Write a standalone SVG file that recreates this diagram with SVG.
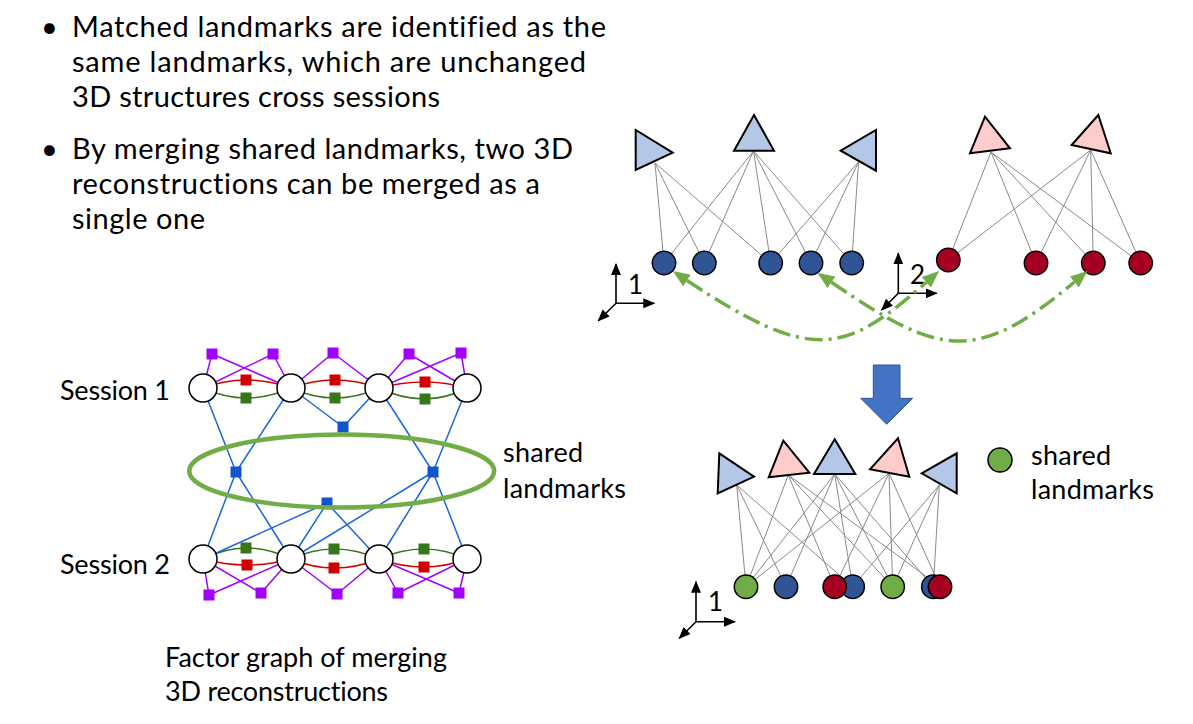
<svg xmlns="http://www.w3.org/2000/svg" width="1193" height="724" viewBox="0 0 1193 724">
<style>
text{font-family:Lato,"Liberation Sans",sans-serif;fill:#000;font-variant-ligatures:none}
.big{font-size:29px}
.mid{font-size:27px}
.ax{font-size:26px}
.g{stroke:#8a8a8a;stroke-width:1;fill:none}
.tb{fill:#B4C7E7;stroke:#000;stroke-width:2}
.tp{fill:#FFCCCC;stroke:#000;stroke-width:2}
.cb{fill:#2F5597;stroke:#000;stroke-width:1.5}
.cr{fill:#A50021;stroke:#000;stroke-width:1.5}
.cg{fill:#70AD47;stroke:#000;stroke-width:1.5}
.axl{stroke:#000;stroke-width:1.6;fill:none}
.mt{stroke:#000;stroke-width:1.5;fill:#fff}
.pl{stroke:#A100FF;stroke-width:1.5;fill:none}
.rl{stroke:#D00000;stroke-width:1.5;fill:none}
.gl{stroke:#38761D;stroke-width:1.5;fill:none}
.bl{stroke:#1a66dd;stroke-width:1.5;fill:none}
.ps{fill:#A100FF}
.rs{fill:#D00000}
.gs{fill:#38761D}
.bs{fill:#1155CC}
.dd{stroke:#70AD47;stroke-width:3.5;fill:none;stroke-dasharray:18 6 3 6}
</style>
<defs>
<marker id="ah" markerUnits="userSpaceOnUse" markerWidth="12" markerHeight="12" viewBox="0 0 12 10" refX="11" refY="5" orient="auto">
<path d="M0,0 L12,5 L0,10 z" fill="#000"/>
</marker>
<marker id="gh" markerUnits="userSpaceOnUse" markerWidth="17" markerHeight="14" viewBox="0 0 17 14" refX="0" refY="7" orient="auto-start-reverse">
<path d="M0,0 L17,7 L0,14 z" fill="#70AD47"/>
</marker>
</defs>
<rect width="1193" height="724" fill="#fff"/>

<g id="bullets">
<text class="big" x="41" y="37">•</text>
<text class="big" x="72" y="37" textLength="534">Matched landmarks are identified as the</text>
<text class="big" x="72" y="72" textLength="514">same landmarks, which are unchanged</text>
<text class="big" x="72" y="107" textLength="368">3D structures cross sessions</text>
<text class="big" x="41" y="159">•</text>
<text class="big" x="72" y="159" textLength="501">By merging shared landmarks, two 3D</text>
<text class="big" x="72" y="194" textLength="468">reconstructions can be merged as a</text>
<text class="big" x="72" y="229" textLength="133">single one</text>
</g>

<!-- Top right graph -->
<g id="top-connectors">
<path class="g" d="M655,163 L664,263 M655,163 L704.3,263 M655,163 L770.7,263"/>
<path class="g" d="M753.5,151 L664,263 M753.5,151 L704.3,263 M753.5,151 L770.7,263 M753.5,151 L811,263 M753.5,151 L851.7,263"/>
<path class="g" d="M858.5,162 L770.7,263 M858.5,162 L811,263 M858.5,162 L851.7,263"/>
<path class="g" d="M991,152 L948.3,260 M991,152 L1036,263 M991,152 L1093.3,263 M991,152 L1140.7,263"/>
<path class="g" d="M1090.7,150 L948.3,260 M1090.7,150 L1036,263 M1090.7,150 L1093.3,263 M1090.7,150 L1140.7,263"/>
</g>
<g id="top-cameras">
<polygon id="t1" class="tb" points="635.7,130 635.7,170 672.7,152.7"/>
<polygon id="t2" class="tb" points="734,150.7 774,150.7 754,115"/>
<polygon id="t3" class="tb" points="840.7,150.7 876,130 876,170.7"/>
<polygon id="r1" class="tp" points="970,153.3 1010,148.3 985,116.7"/>
<polygon id="r2" class="tp" points="1071.7,145 1110.7,153.3 1098.3,115"/>
</g>
<g id="top-landmarks">
<circle class="cb" cx="664" cy="263" r="11.7"/>
<circle class="cb" cx="704.3" cy="263" r="11.7"/>
<circle class="cb" cx="770.7" cy="263" r="11.7"/>
<circle class="cb" cx="811" cy="263" r="11.7"/>
<circle class="cb" cx="851.7" cy="263" r="11.7"/>
<circle class="cr" cx="948.3" cy="260" r="11.7"/>
<circle class="cr" cx="1036" cy="263" r="11.7"/>
<circle class="cr" cx="1093.3" cy="263" r="11.7"/>
<circle class="cr" cx="1140.7" cy="263" r="11.7"/>
</g>
<g id="axes1">
<path class="axl" d="M616,303.3 L616,264" marker-end="url(#ah)"/>
<path class="axl" d="M616,303.3 L654.3,303.3" marker-end="url(#ah)"/>
<path class="axl" d="M616,303.3 L598.3,320.7" marker-end="url(#ah)"/>
<text class="ax" x="628" y="293.5">1</text>
</g>
<g id="axes2">
<path class="axl" d="M898.3,293.3 L898.3,253.3" marker-end="url(#ah)"/>
<path class="axl" d="M898.3,293.3 L936.7,293.3" marker-end="url(#ah)"/>
<path class="axl" d="M898.3,293.3 L881.7,310" marker-end="url(#ah)"/>
<text class="ax" x="910" y="283.5">2</text>
</g>
<g id="match-connectors">
<path class="dd" d="M687,280.5 C812,363.2 843.9,355 926.3,282.3" marker-start="url(#gh)" marker-end="url(#gh)"/>
<path class="dd" d="M831.5,282.3 C939,355.5 974.8,365.6 1074.4,282" marker-start="url(#gh)" marker-end="url(#gh)"/>
</g>

<g id="merge-arrow">
<polygon points="873.3,365 900,365 900,398.3 912.7,398.3 886.7,424.3 860.7,398.3 873.3,398.3" fill="#4472C4" stroke="#2F5597" stroke-width="1"/>
</g>

<!-- Bottom merged graph -->
<g id="bottom-connectors">
<path class="g" d="M736.7,485 L746,586.7 M736.7,485 L786,586.7 M736.7,485 L852.7,586.7"/>
<path class="g" d="M834.7,474 L746,586.7 M834.7,474 L786,586.7 M834.7,474 L852.7,586.7 M834.7,474 L892.7,586.7 M834.7,474 L933.3,586.7"/>
<path class="g" d="M939.3,485 L852.7,586.7 M939.3,485 L892.7,586.7 M939.3,485 L933.3,586.7"/>
<path class="g" d="M788.3,475 L746,586.7 M788.3,475 L834.7,586.7 M788.3,475 L892.7,586.7 M788.3,475 L940,586.7"/>
<path class="g" d="M889,473.3 L746,586.7 M889,473.3 L834.7,586.7 M889,473.3 L892.7,586.7 M889,473.3 L940,586.7"/>
</g>
<g id="bottom-cameras">
<polygon class="tb" points="719.3,453.3 717.7,493.3 754,476.7"/>
<polygon class="tp" points="768.7,477.3 809.3,472.7 783.3,440.7"/>
<polygon class="tb" points="814,474 855.3,474 834.7,439.3"/>
<polygon class="tp" points="870,469.3 909.3,476.7 898,438.3"/>
<polygon class="tb" points="921.7,473.3 956.7,453.3 956.7,493.3"/>
</g>
<g id="bottom-landmarks">
<circle class="cg" cx="746" cy="586.7" r="11.7"/>
<circle class="cb" cx="786" cy="586.7" r="11.7"/>
<circle class="cb" cx="852.7" cy="586.7" r="11.7"/>
<circle class="cr" cx="834.7" cy="586.7" r="11.7"/>
<circle class="cg" cx="892.7" cy="586.7" r="11.7"/>
<circle class="cb" cx="933.3" cy="586.7" r="11.7"/>
<circle class="cr" cx="940" cy="586.7" r="11.7"/>
</g>
<g id="axes3">
<path class="axl" d="M696,621.7 L696,581.7" marker-end="url(#ah)"/>
<path class="axl" d="M696,621.7 L735,621.7" marker-end="url(#ah)"/>
<path class="axl" d="M696,621.7 L679.3,638.3" marker-end="url(#ah)"/>
<text class="ax" x="708" y="610.5">1</text>
</g>
<g id="legend">
<circle class="cg" cx="1000" cy="460" r="12"/>
<text class="mid" x="1031" y="465" textLength="80">shared</text>
<text class="mid" x="1031" y="498.5" textLength="123">landmarks</text>
</g>

<!-- Factor graph -->
<g id="factor-connectors">
<path class="pl" d="M212,354 L203,388 M212,354 L291,388 M273,354 L203,388 M273,354 L291,388 M333,353 L291,388 M333,353 L379,388 M409,354 L379,388 M409,354 L467,388 M461,353 L379,388 M461,353 L467,388"/>
<path class="pl" d="M209,595 L203,559 M209,595 L291,559 M261,593 L203,559 M261,593 L291,559 M337,594 L291,559 M337,594 L379,559 M398,593 L379,559 M398,593 L467,559 M459,593 L379,559 M459,593 L467,559"/>
<path class="rl" d="M203,388 Q246,372 291,388 Q335,372 379,388 Q425,376 467,388"/>
<path class="gl" d="M203,388 Q246,408 291,388 Q335,408 379,388 Q425,410 467,388"/>
<path class="gl" d="M203,559 Q246,537 291,559 Q334,539 379,559 Q424,539 467,559"/>
<path class="rl" d="M203,559 Q247,571 291,559 Q334,577 379,559 Q424,575 467,559"/>
<path class="bl" d="M343,427 L291,388 M343,427 L379,388 M236,472 L203,388 M236,472 L291,388 M236,472 L203,559 M236,472 L291,559 M433,472 L379,388 M433,472 L467,388 M433,472 L379,559 M433,472 L467,559 M433,472 L291,559 M327,503 L203,559 M327,503 L291,559 M327,503 L379,559"/>
</g>
<g id="session1-nodes">
<circle class="mt" cx="203" cy="388" r="14"/>
<circle class="mt" cx="291" cy="388" r="14"/>
<circle class="mt" cx="379" cy="388" r="14"/>
<circle class="mt" cx="467" cy="388" r="14"/>
</g>
<g id="session2-nodes">
<circle class="mt" cx="203" cy="559" r="14"/>
<circle class="mt" cx="291" cy="559" r="14"/>
<circle class="mt" cx="379" cy="559" r="14"/>
<circle class="mt" cx="467" cy="559" r="14"/>
</g>
<g id="factors">
<rect class="ps" x="206.5" y="348.5" width="11" height="11"/>
<rect class="ps" x="267.5" y="348.5" width="11" height="11"/>
<rect class="ps" x="327.5" y="347.5" width="11" height="11"/>
<rect class="ps" x="403.5" y="348.5" width="11" height="11"/>
<rect class="ps" x="455.5" y="347.5" width="11" height="11"/>
<rect class="ps" x="203.5" y="589.5" width="11" height="11"/>
<rect class="ps" x="255.5" y="587.5" width="11" height="11"/>
<rect class="ps" x="331.5" y="588.5" width="11" height="11"/>
<rect class="ps" x="392.5" y="587.5" width="11" height="11"/>
<rect class="ps" x="453.5" y="587.5" width="11" height="11"/>
<rect class="rs" x="240.5" y="374.5" width="11" height="11"/>
<rect class="rs" x="329.5" y="374.5" width="11" height="11"/>
<rect class="rs" x="419.5" y="376.5" width="11" height="11"/>
<rect class="gs" x="240.5" y="392.5" width="11" height="11"/>
<rect class="gs" x="329.5" y="392.5" width="11" height="11"/>
<rect class="gs" x="419.5" y="393.5" width="11" height="11"/>
<rect class="gs" x="240.5" y="542.5" width="11" height="11"/>
<rect class="gs" x="328.5" y="543.5" width="11" height="11"/>
<rect class="gs" x="418.5" y="543.5" width="11" height="11"/>
<rect class="rs" x="241.5" y="559.5" width="11" height="11"/>
<rect class="rs" x="328.5" y="562.5" width="11" height="11"/>
<rect class="rs" x="418.5" y="561.5" width="11" height="11"/>
<rect class="bs" x="337.5" y="421.5" width="11" height="11"/>
<rect class="bs" x="230.5" y="466.5" width="11" height="11"/>
<rect class="bs" x="427.5" y="466.5" width="11" height="11"/>
<rect class="bs" x="321.5" y="497.5" width="11" height="10"/>
</g>
<g id="shared-ellipse">
<ellipse cx="341.7" cy="471" rx="152.5" ry="36.5" fill="none" stroke="#70AD47" stroke-width="4.5"/>
</g>
<g id="factor-labels">
<text class="mid" x="60" y="400" textLength="110">Session 1</text>
<text class="mid" x="60" y="574" textLength="110">Session 2</text>
<text class="mid" x="503" y="462" textLength="80">shared</text>
<text class="mid" x="503" y="498" textLength="123">landmarks</text>
<text class="mid" x="165" y="667" textLength="282">Factor graph of merging</text>
<text class="mid" x="165" y="701" textLength="223">3D reconstructions</text>
</g>
</svg>
